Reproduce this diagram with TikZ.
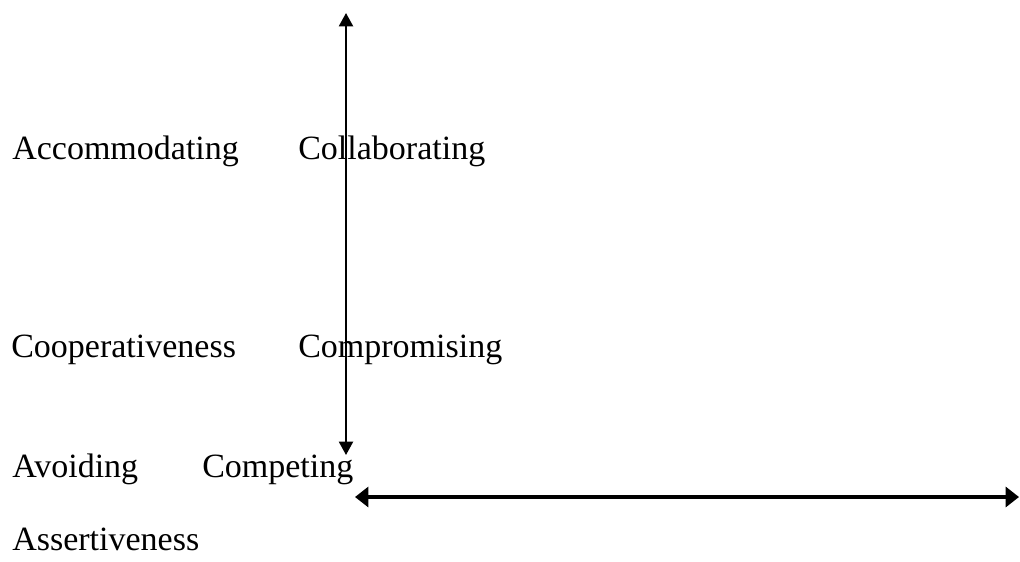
\documentclass[tikz,border=0pt]{standalone}
\usepackage{fontspec}
\setmainfont{Liberation Serif}
\usepackage{tikz}
\usetikzlibrary{arrows.meta}

\begin{document}
\begin{tikzpicture}[x=0.75pt,y=-0.75pt,
    modelabel/.style={anchor=base west,inner sep=0pt,font=\fontsize{25.5}{30}\selectfont},
    axisarrow/.style={line width=#1,{Triangle[length=10pt,width=10.5pt]}-{Triangle[length=10pt,width=10.5pt]}}]
    \useasboundingbox (0,0) rectangle (1020,561);
    \foreach \n/\x/\y/\t in {
     accom/12/159/Accommodating,collab/298/159/Collaborating,
     coop/11/357/Cooperativeness,comprom/298/357/Compromising,
     avoid/12/477/Avoiding,compet/202/477/Competing,
     assert/12/550/Assertiveness
     } {
      \node[modelabel] (\n) at (\x,\y) {\t};
     }
    \coordinate (cooptop) at (346,13);
    \coordinate (coopbot) at (346,455);
    \coordinate (assleft) at (355,497);
    \coordinate (assright) at (1019,497);
    \draw[axisarrow=1.6pt] (coopbot) -- (cooptop);
    \draw[axisarrow=2.3pt,{Triangle[length=10pt,width=15pt]}-{Triangle[length=10pt,width=15pt]}] (assleft) -- (assright);
   \end{tikzpicture}
\end{document}
